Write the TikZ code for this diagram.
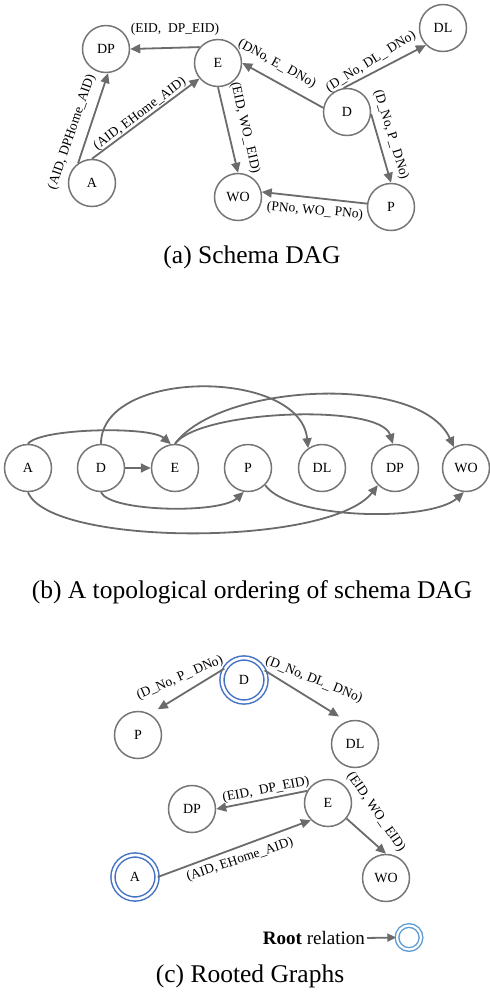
\documentclass[tikz,border=0pt]{standalone}
\usepackage{fontspec}
\setmainfont{Liberation Serif}
\usetikzlibrary{arrows.meta}
\definecolor{edgegray}{RGB}{108,106,106}
\definecolor{circgray}{RGB}{118,118,118}
\definecolor{rootblue}{RGB}{68,114,196}
\definecolor{keyblue}{RGB}{91,155,213}
\tikzset{
  rel/.style={circle, draw=circgray, line width=1.5pt, minimum size=47pt, inner sep=0pt,
    font=\fontsize{14}{15}\selectfont},
  rootrel/.style={circle, draw=rootblue, double=white, double distance=2.6pt, line width=1.5pt,
    minimum size=44pt, inner sep=0pt, font=\fontsize{14}{15}\selectfont},
  link/.style={draw=edgegray, line width=1.8pt, -{Triangle[length=10pt,width=9pt]}},
  elab/.style={font=\fontsize{13.5}{14}\selectfont, inner sep=0pt},
  caption/.style={font=\fontsize{25.5}{27}\selectfont, inner sep=0pt},
}
\begin{document}
\begin{tikzpicture}[x=1pt,y=-1pt]
\useasboundingbox (0,0) rectangle (490,997);

% ---------- (a) schema DAG ----------
\node[rel] (aDP) at (106,49) {DP};
\node[rel] (aE)  at (218,63) {E};
\node[rel] (aA)  at (92,183) {A};
\node[rel] (aWO) at (238,197) {WO};
\node[rel] (aD)  at (347,112) {D};
\node[rel] (aDL) at (443,28) {DL};
\node[rel] (aP)  at (391,207) {P};

\draw[link] (aE.139) -- (aDP.east);
\node[elab] (laEDP) at (175,29) {(EID,\ \ DP\_EID)};
\draw[link] (aA.125) -- (aDP.-85);
\node[elab, rotate=71] (laADP) at (72,132) {(AID, DPHome\_AID)};
\draw[link] (aA.north) -- (aE.220);
\node[elab, rotate=37] (laAE) at (140,114) {(AID, EHome\_AID)};
\draw[link] (aE.south) -- (aWO.north);
\node[elab, rotate=-77] (laEWO) at (245,128) {(EID, WO\_ EID)};
\draw[link] (aD.170) -- (aE.east);
\node[elab, rotate=-29] (laDE) at (277,64) {(DNo, E\_ DNo)};
\draw[link] (aD.98) -- (aDL.225);
\node[elab, rotate=32] (laDDL) at (371,62) {(D\_No, DL\_ DNo)};
\draw[link] (aD.-5) -- (aP.north);
\node[elab, rotate=-73] (laDP) at (391,135) {(D\_No, P\_ DNo)};
\draw[link] (aP.172) -- (aWO.12);
\node[elab, rotate=-5] (laPWO) at (315,211) {(PNo, WO\_ PNo)};

\node[caption] (capa) at (252,257) {(a) Schema DAG};

% ---------- (b) topological ordering ----------
\node[rel] (bA)  at (28,468) {A};
\node[rel] (bD)  at (101,468) {D};
\node[rel] (bE)  at (175,468) {E};
\node[rel] (bP)  at (248,468) {P};
\node[rel] (bDL) at (322,468) {DL};
\node[rel] (bDP) at (395,468) {DP};
\node[rel] (bWO) at (466,468) {WO};

\draw[link] (bA.north) .. controls (40,428) and (150,426) .. (bE.100);
\draw[link] (bD.east) -- (bE.west);
\draw[link] (bD.north) .. controls (101,368) and (300,368) .. (bDL.125);
\draw[link] (bE.north) .. controls (200,410) and (380,403) .. (bDP.95);
\draw[link] (bE.north) .. controls (220,383) and (420,373) .. (bWO.120);
\draw[link] (bD.south) .. controls (110,512) and (220,514) .. (bP.-100);
\draw[link] (bA.south) .. controls (50,547) and (330,547) .. (bDP.-135);
\draw[link] (bP.-45) .. controls (290,520) and (430,522) .. (bWO.-95);

\node[caption] (capb) at (252,592) {(b) A topological ordering of schema DAG};

% ---------- (c) rooted graphs ----------
\node[rootrel] (cD)  at (244,680) {D};
\node[rel]     (cP)  at (138,735) {P};
\node[rel]     (cDL) at (355,744) {DL};
\draw[link, shorten >=9pt] (cD.150) -- (cP.60);
\node[elab, rotate=23.5] (lcDP) at (180,678) {(D\_No, P\_ DNo)};
\draw[link, shorten >=9pt] (cD.25) -- (cDL.110);
\node[elab, rotate=-22] (lcDDL) at (314,680) {(D\_No, DL\_ DNo)};

\node[rel]     (cDP) at (192,809) {DP};
\node[rel]     (cE)  at (328,803) {E};
\node[rootrel] (cA)  at (135,877) {A};
\node[rel]     (cWO) at (386,878) {WO};
\draw[link] (cE.150) -- (cDP.east);
\node[elab, rotate=11] (lcEDP) at (266,790) {(EID,\ \ DP\_EID)};
\draw[link] (cA.east) -- (cE.225);
\node[elab, rotate=18.5] (lcAE) at (240,860) {(AID, EHome\_AID)};
\draw[link] (cE.-40) -- (cWO.north);
\node[elab, rotate=-55.5] (lcEWO) at (376,812) {(EID, WO\_ EID)};

% legend
\node[font=\fontsize{19}{20}\selectfont, inner sep=0pt, anchor=east] (key) at (365,938) {\textbf{Root} relation};
\node[circle, draw=keyblue, double=white, double distance=2.2pt, line width=1.4pt,
      minimum size=24pt, inner sep=0pt] (keyc) at (409,937.5) {};
\draw[link, -{Triangle[length=9pt,width=8pt]}, shorten <=2pt] (key.east) -- (keyc.west);

\node[caption] (capc) at (250,976) {(c) Rooted Graphs};
\end{tikzpicture}
\end{document}
